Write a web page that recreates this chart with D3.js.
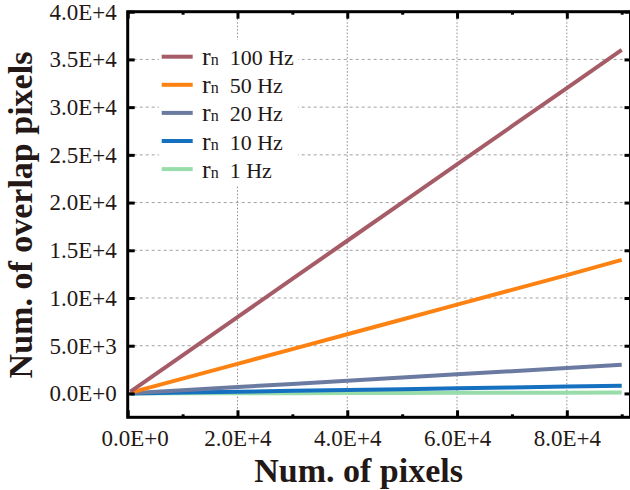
<!DOCTYPE html>
<html><head><meta charset="utf-8">
<script src="https://cdn.jsdelivr.net/npm/d3@7/dist/d3.min.js"></script>
<style>
html,body{margin:0;padding:0;background:#fff;}
svg{display:block;}
</style></head>
<body>
<svg id="chart" width="630" height="490"></svg>
<script>
// ---- data ----
const xValues   = [500, 10000, 20000, 30000, 40000, 50000, 60000, 70000, 80000, 90000];
const seriesNames = ["100 Hz", "50 Hz", "20 Hz", "10 Hz", "1 Hz"];
const hz100 = [200, 4000, 8000, 12000, 16000, 20000, 24000, 28000, 32000, 36000];
const hz50  = [80, 1550, 3100, 4650, 6200, 7750, 9300, 10850, 12400, 14000];
const hz20  = [20, 330, 670, 1000, 1330, 1670, 2000, 2330, 2670, 3000];
const hz10  = [5, 90, 180, 270, 360, 450, 540, 630, 720, 800];
const hz1   = [0, 10, 20, 30, 40, 50, 60, 70, 80, 90];
const xMajorTicks = [0, 20000, 40000, 60000, 80000];
const xMinorTicks = [10000, 30000, 50000, 70000, 90000];
const yMajorTicks = [0, 5000, 10000, 15000, 20000, 25000, 30000, 35000, 40000];
const xTitle = "Num. of pixels";
const yTitle = "Num. of overlap pixels";

const colors = ["#a65c66", "#fd8212", "#6a7aa0", "#1670c0", "#98dcaa"];
const seriesData = [hz100, hz50, hz20, hz10, hz1];

const svg = d3.select("#chart");
const L = 127.7, R = 630.5, T = 11.7, B = 417.3;
const x = d3.scaleLinear().domain([0, 91600]).range([L, R]);
const y = d3.scaleLinear().domain([-2500, 40000]).range([B, T]);
const textColor = "#231815";
const serif = "'Liberation Serif','Times New Roman',serif";

function fmt(v) {
  if (v === 0) return "0.0E+0";
  const e = Math.floor(Math.log10(v));
  const m = v / Math.pow(10, e);
  return m.toFixed(1) + "E+" + e;
}

// gridlines
const grid = svg.append("g");
grid.selectAll("line.v").data(xMajorTicks.filter(d => d > 0)).join("line")
  .attr("x1", d => x(d)).attr("x2", d => x(d)).attr("y1", T).attr("y2", B)
  .attr("stroke", "#8a8a8a").attr("stroke-width", 1).attr("stroke-dasharray", "1.5,2");
grid.selectAll("line.h").data(yMajorTicks.filter(d => d > 0 && d < 40000)).join("line")
  .attr("x1", L).attr("x2", R).attr("y1", d => y(d)).attr("y2", d => y(d))
  .attr("stroke", "#a0a0a0").attr("stroke-width", 1).attr("stroke-dasharray", "3,3");

// legend background (covers gridlines)
svg.append("rect").attr("x", 159).attr("y", 40).attr("width", 139).attr("height", 146).attr("fill", "#fff");

// lines (draw smallest first)
const line = d3.line().x((d, i) => x(xValues[i])).y(d => y(d));
const order = [4, 3, 2, 1, 0];
order.forEach(k => {
  svg.append("path").datum(seriesData[k])
    .attr("d", line).attr("fill", "none")
    .attr("stroke", colors[k]).attr("stroke-width", 4);
});

// axes
function styleAxis(g) {
  g.select(".domain").remove();
  g.selectAll(".tick line").attr("stroke", "#000").attr("stroke-width", 3);
  g.selectAll(".tick text").attr("fill", textColor).attr("font-family", serif);
}
const gxB = svg.append("g").attr("transform", `translate(0,${B})`)
  .call(d3.axisBottom(x).tickValues(xMajorTicks).tickSize(-7).tickFormat(fmt));
styleAxis(gxB);
gxB.selectAll(".tick text").style("font-size", "23px").attr("y", 29).attr("dy", 0)
  .attr("dx", d => d === 0 ? 7 : 0);
const gxBm = svg.append("g").attr("transform", `translate(0,${B})`)
  .call(d3.axisBottom(x).tickValues(xMinorTicks).tickSize(-3).tickFormat(""));
styleAxis(gxBm);

const gxT = svg.append("g").attr("transform", `translate(0,${T})`)
  .call(d3.axisTop(x).tickValues(xMajorTicks).tickSize(-7).tickFormat(""));
styleAxis(gxT);
const gxTm = svg.append("g").attr("transform", `translate(0,${T})`)
  .call(d3.axisTop(x).tickValues(xMinorTicks).tickSize(-3).tickFormat(""));
styleAxis(gxTm);

const gyL = svg.append("g").attr("transform", `translate(${L},0)`)
  .call(d3.axisLeft(y).tickValues(yMajorTicks).tickSize(-7).tickFormat(fmt));
styleAxis(gyL);
gyL.selectAll(".tick text").style("font-size", "23px").attr("x", -11);

const gyR = svg.append("g").attr("transform", `translate(${R},0)`)
  .call(d3.axisRight(y).tickValues(yMajorTicks).tickSize(-6).tickFormat(""));
styleAxis(gyR);

// frame
svg.append("rect").attr("x", L).attr("y", T).attr("width", R - L).attr("height", B - T)
  .attr("fill", "none").attr("stroke", "#000").attr("stroke-width", 3);

// axis titles
svg.append("text").attr("x", 358.6).attr("y", 481.5).attr("text-anchor", "middle")
  .attr("font-family", serif).attr("font-weight", "bold").style("font-size", "34px")
  .attr("fill", textColor).text(xTitle);
svg.append("text").attr("transform", "translate(32,215) rotate(-90)").attr("text-anchor", "middle")
  .attr("font-family", serif).attr("font-weight", "bold").style("font-size", "34px")
  .attr("fill", textColor).text(yTitle);

// legend
const lg = svg.append("g");
seriesNames.forEach((name, i) => {
  const cy = 56.7 + i * 28.1;
  lg.append("line").attr("x1", 161.7).attr("x2", 192.7).attr("y1", cy).attr("y2", cy)
    .attr("stroke", colors[i]).attr("stroke-width", 4);
  const t = lg.append("text").attr("x", 202).attr("y", cy + 8.5)
    .attr("font-family", serif).attr("fill", textColor).style("font-size", "22px");
  t.append("tspan").style("font-size", "26px").text("r");
  t.append("tspan").style("font-size", "16px").text("n");
  t.append("tspan").style("font-size", "22px").attr("dx", 11).text(name);
});
</script>
</body></html>
